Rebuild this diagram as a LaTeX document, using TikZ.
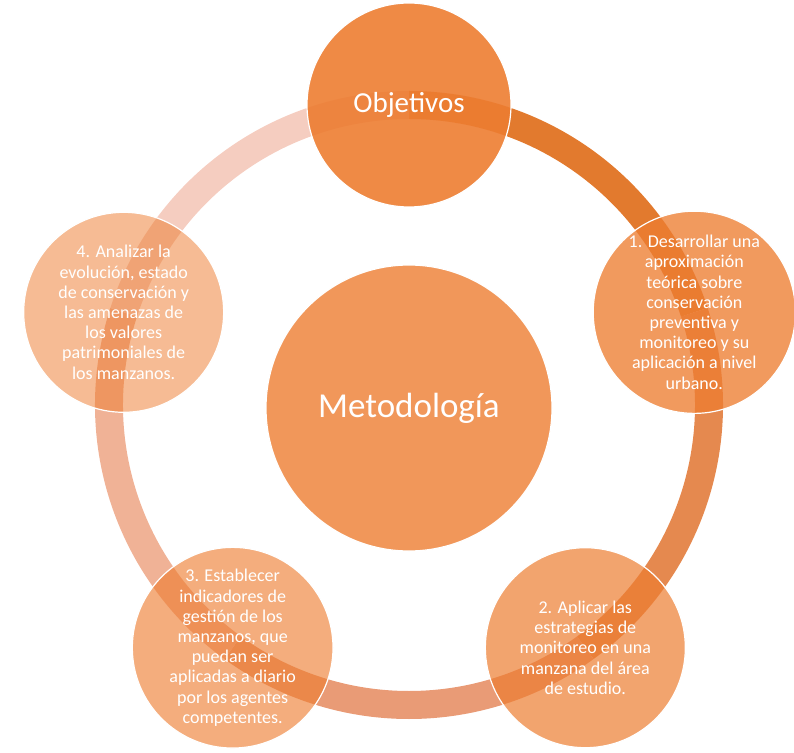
\documentclass[tikz,border=0pt]{standalone}
\usepackage{fontspec}
\setmainfont{Carlito}
\usepackage{tikz}
\usetikzlibrary{positioning,calc}
\definecolor{acento}{RGB}{237,125,49}
\definecolor{arcoA}{RGB}{226,122,46}
\definecolor{arcoB}{RGB}{229,137,79}
\definecolor{arcoC}{RGB}{233,155,118}
\definecolor{arcoD}{RGB}{240,178,150}
\definecolor{arcoE}{RGB}{245,205,192}
\tikzset{
  ring/.style={line width=28pt},
  bola/.style={circle,draw=white,line width=1.2pt,fill=acento,text=white,
    text opacity=1,align=center,inner sep=0pt,minimum size=200pt,
    font=\fontsize{18}{20.2}\selectfont},
}

\begin{document}
\begin{tikzpicture}
		\useasboundingbox (-409pt,-347pt) rectangle (385pt,405pt);
		\coordinate (c) at (0,0);
		% anillo
		\coordinate (p0) at (90:300pt);
		\coordinate (p1) at (18:300pt);
		\coordinate (p2) at (-54:300pt);
		\coordinate (p3) at (-126:300pt);
		\coordinate (p4) at (162:300pt);
		\draw[ring,arcoA] (p0) arc[start angle=90,end angle=18,radius=300pt];
		\draw[ring,arcoB] (p1) arc[start angle=18,end angle=-54,radius=300pt];
		\draw[ring,arcoC] (p2) arc[start angle=-54,end angle=-126,radius=300pt];
		\draw[ring,arcoD] (p3) arc[start angle=-126,end angle=-198,radius=300pt];
		\draw[ring,arcoE] (p4) arc[start angle=162,end angle=90,radius=300pt];
		% circulos
		\node[bola,fill opacity=0.8,minimum size=286pt,font=\fontsize{35}{40}\selectfont] (met) at (0,-3pt) {Metodología};
		\node[bola,fill opacity=0.9,minimum size=204pt,font=\fontsize{29}{32}\selectfont] (obj) at (p0) {Objetivos};
		\node[bola,fill opacity=0.78] (uno) at (p1) {1. Desarrollar una\\aproximación\\teórica sobre\\conservación\\preventiva y\\monitoreo y su\\aplicación a nivel\\urbano.};
		\node[bola,fill opacity=0.7] (dos) at (p2) {2. Aplicar las\\estrategias de\\monitoreo en una\\manzana del área\\de estudio.};
		\node[bola,fill opacity=0.63] (tres) at (p3) {3. Establecer\\indicadores de\\gestión de los\\manzanos, que\\puedan ser\\aplicadas a diario\\por los agentes\\competentes.};
		\node[bola,fill opacity=0.52] (cuatro) at (p4) {4. Analizar la\\evolución, estado\\de conservación y\\las amenazas de\\los valores\\patrimoniales de\\los manzanos.};
	\end{tikzpicture}
\end{document}
